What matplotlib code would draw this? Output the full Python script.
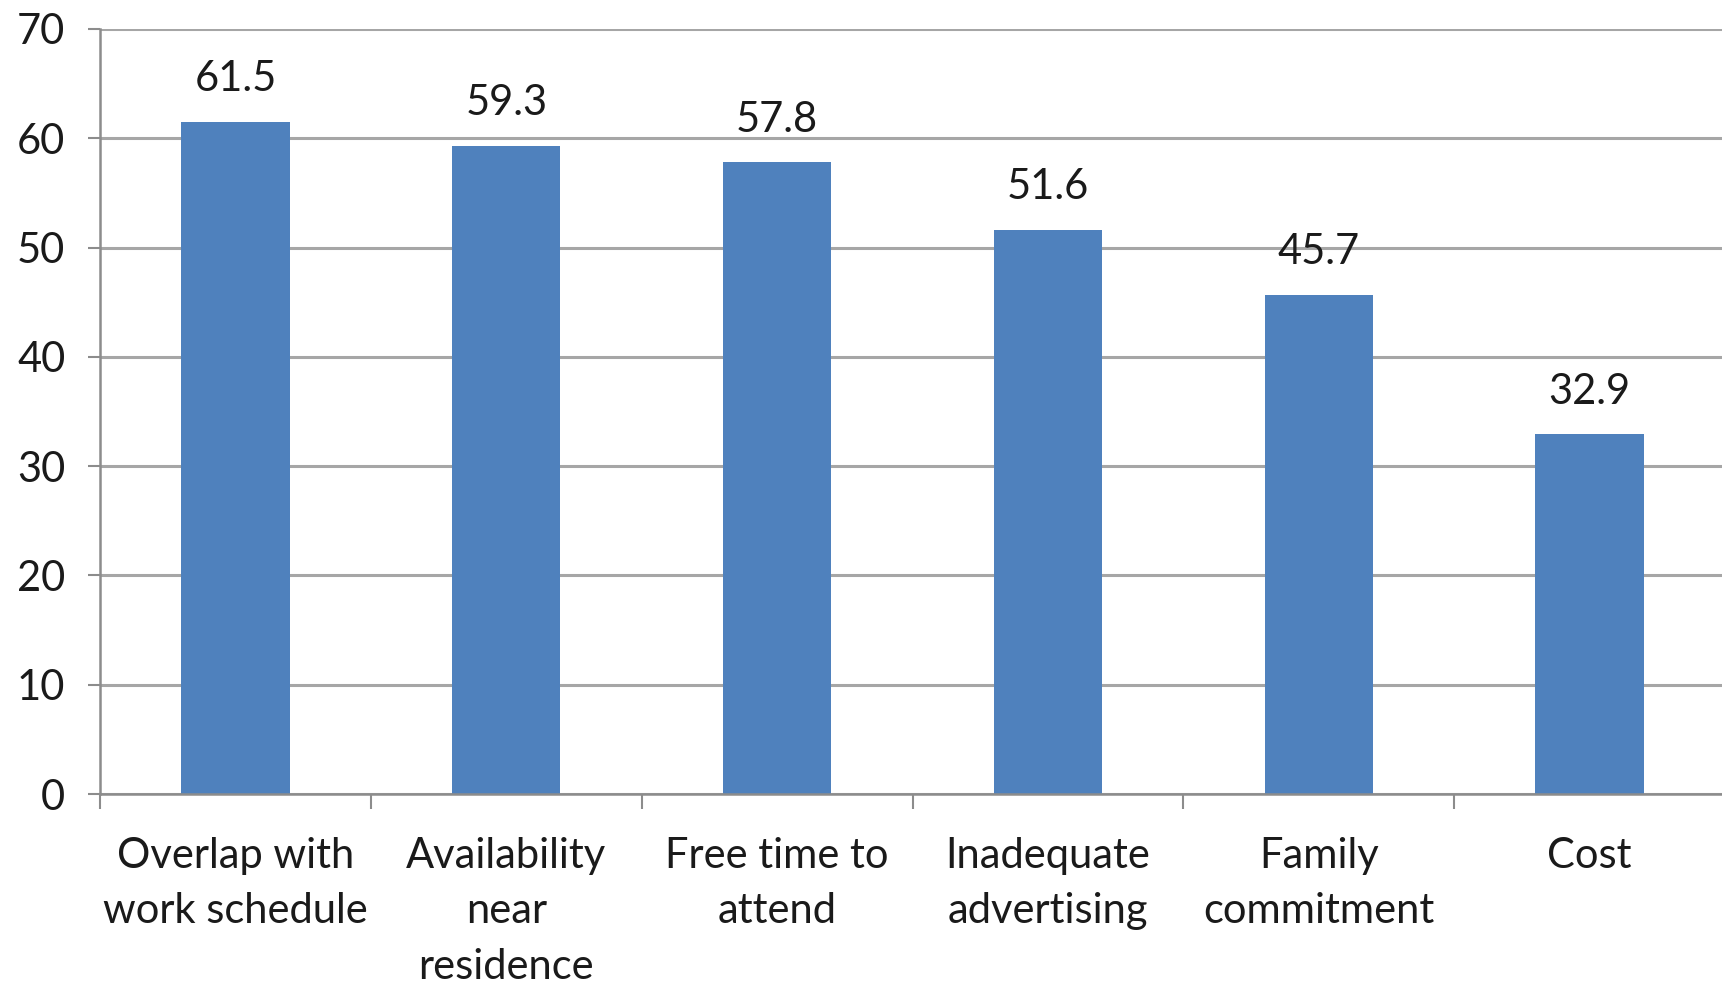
import matplotlib
matplotlib.use("Agg")
import matplotlib.pyplot as plt
from matplotlib.ticker import FixedLocator

categories = ["Overlap with\nwork schedule", "Availability\nnear\nresidence", "Free time to\nattend",
              "Inadequate\nadvertising", "Family\ncommitment", "Cost"]
values = [61.5, 59.3, 57.8, 51.6, 45.7, 32.9]
yticks = [0, 10, 20, 30, 40, 50, 60, 70]

plt.rcParams['font.family'] = ['Lato', 'DejaVu Sans']
text_color = '#1a1a1a'
grid_color = '#a6a6a6'
axis_color = '#8c8c8c'
fs = 30

fig = plt.figure(figsize=(17.22, 9.86), dpi=100)
ax = fig.add_axes([100/1722, 1-794/986, 1625/1722, (794-29)/986])

x = list(range(len(categories)))
ax.bar(x, values, width=0.4, color='#4f81bd', zorder=3)
for xi, v in zip(x, values):
    ax.annotate(f"{v}", (xi, v), xytext=(0, 17), textcoords='offset points',
                ha='center', va='bottom', fontsize=fs, color=text_color)

ax.set_xlim(-0.5, len(categories)-0.5)
ax.set_ylim(0, 70)
ax.set_yticks(yticks)
ax.set_yticklabels([str(t) for t in yticks], fontsize=fs, color=text_color)
ax.yaxis.grid(True, color=grid_color, linewidth=2.2, zorder=0)
ax.tick_params(axis='y', length=9, width=1.5, color=axis_color, pad=16)

ax.set_xticks(x)
ax.set_xticklabels(categories, fontsize=fs, color=text_color, linespacing=1.56, va='top')
ax.xaxis.set_minor_locator(FixedLocator([i - 0.5 for i in range(len(categories)+1)]))
ax.tick_params(axis='x', which='major', length=0, pad=31)
ax.tick_params(axis='x', which='minor', length=11, width=1.5, color=axis_color)

for s in ['top', 'right']:
    ax.spines[s].set_visible(False)
for s in ['left', 'bottom']:
    ax.spines[s].set_color(axis_color)
    ax.spines[s].set_linewidth(1.8)
    ax.spines[s].set_zorder(4)

fig.savefig("out.png", dpi=100, facecolor='white')
